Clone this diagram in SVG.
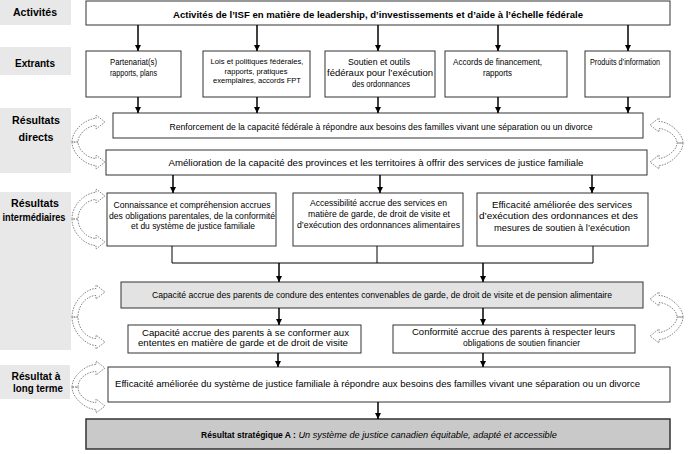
<svg xmlns="http://www.w3.org/2000/svg" width="690" height="454" viewBox="0 0 690 454">
<defs>
<marker id="ah" viewBox="0 0 10 10" refX="10" refY="5" markerWidth="4" markerHeight="4" orient="auto" markerUnits="strokeWidth">
<path d="M0,0 L10,5 L0,10 Z" fill="#000"/>
</marker>
<style>
.lbl{fill:#e8e8e8;stroke:none}
.lt{font-family:"Liberation Sans",Arial,sans-serif;font-size:10px;font-weight:bold;fill:#000;text-anchor:middle}
.box{fill:#fff;stroke:#333;stroke-width:1}
.gbox{fill:#e3e3e3;stroke:#333;stroke-width:1}
.sbox{fill:#c9c9c9;stroke:#333;stroke-width:1.5}
.t{font-family:"Liberation Sans",Arial,sans-serif;font-size:9px;fill:#000;text-anchor:middle}
.ts{font-family:"Liberation Sans",Arial,sans-serif;font-size:7px;fill:#000;text-anchor:middle}
.tb{font-family:"Liberation Sans",Arial,sans-serif;font-size:9.5px;font-weight:bold;fill:#000}
.st{font-family:"Liberation Sans",Arial,sans-serif;font-size:9.2px;fill:#000;text-anchor:middle}
.b{font-weight:bold;font-size:8.5px}
.i{font-style:italic}
.ar{stroke:#000;stroke-width:1.5;fill:none;marker-end:url(#ah)}
.ln{stroke:#000;stroke-width:1;fill:none}
.cv{fill:none;stroke:#888;stroke-width:1;stroke-dasharray:1.6 1.2}
</style>
</defs>
<rect width="690" height="454" fill="#fff"/>

<g id="labels">
<rect class="lbl" x="0" y="0" width="71" height="25"/>
<text class="lt" x="35" y="16" textLength="44" lengthAdjust="spacingAndGlyphs">Activités</text>
<rect class="lbl" x="0" y="47" width="71" height="28"/>
<text class="lt" x="35" y="67" textLength="40" lengthAdjust="spacingAndGlyphs">Extrants</text>
<rect class="lbl" x="0" y="108" width="71" height="65"/>
<text class="lt" x="36" y="124" textLength="48" lengthAdjust="spacingAndGlyphs">Résultats</text>
<text class="lt" x="36" y="141" textLength="35" lengthAdjust="spacingAndGlyphs">directs</text>
<rect class="lbl" x="0" y="192" width="71" height="158"/>
<text class="lt" x="35" y="207" textLength="48" lengthAdjust="spacingAndGlyphs">Résultats</text>
<text class="lt" x="34" y="221" textLength="63" lengthAdjust="spacingAndGlyphs">intermédiaires</text>
<rect class="lbl" x="0" y="365" width="70" height="34"/>
<text class="lt" x="36" y="380" textLength="49" lengthAdjust="spacingAndGlyphs">Résultat à</text>
<text class="lt" x="38" y="392" textLength="50" lengthAdjust="spacingAndGlyphs">long terme</text>
</g>

<g id="activites">
<rect class="box" x="86" y="1" width="584" height="24"/>
<text class="tb" x="378" y="18" text-anchor="middle" textLength="410" lengthAdjust="spacingAndGlyphs">Activités de l’ISF en matière de leadership, d’investissements et d’aide à l’échelle fédérale</text>
</g>

<g id="extrant1">
<rect class="box" x="86" y="51" width="95" height="46"/>
<text class="t" x="133.5" y="65" textLength="47" lengthAdjust="spacingAndGlyphs">Partenariat(s)</text>
<text class="t" x="133.5" y="75.5" textLength="47" lengthAdjust="spacingAndGlyphs">rapports, plans</text>
</g>
<g id="extrant2">
<rect class="box" x="203" y="51" width="107" height="46"/>
<text class="ts" x="257" y="63.5" textLength="93" lengthAdjust="spacingAndGlyphs">Lois et politiques fédérales,</text>
<text class="ts" x="256" y="73.5" textLength="63" lengthAdjust="spacingAndGlyphs">rapports, pratiques</text>
<text class="ts" x="257" y="83" textLength="88" lengthAdjust="spacingAndGlyphs">exemplaires, accords FPT</text>
</g>
<g id="extrant3">
<rect class="box" x="325" y="51" width="110" height="46"/>
<text class="t" x="379" y="65" textLength="62" lengthAdjust="spacingAndGlyphs">Soutien et outils</text>
<text class="t" x="380" y="76" textLength="106" lengthAdjust="spacingAndGlyphs">fédéraux pour l’exécution</text>
<text class="t" x="381" y="86.5" textLength="58" lengthAdjust="spacingAndGlyphs">des ordonnances</text>
</g>
<g id="extrant4">
<rect class="box" x="445" y="51" width="122" height="46"/>
<text class="t" x="497.5" y="65" textLength="89" lengthAdjust="spacingAndGlyphs">Accords de financement,</text>
<text class="t" x="497.5" y="76" textLength="29" lengthAdjust="spacingAndGlyphs">rapports</text>
</g>
<g id="extrant5">
<rect class="box" x="585" y="51" width="85" height="46"/>
<text class="t" x="625" y="65" textLength="70" lengthAdjust="spacingAndGlyphs">Produits d’information</text>
</g>

<g id="direct1">
<rect class="box" x="113" y="113" width="530" height="25"/>
<text class="t" x="381" y="130" textLength="423" lengthAdjust="spacingAndGlyphs">Renforcement de la capacité fédérale à répondre aux besoins des familles vivant une séparation ou un divorce</text>
</g>
<g id="direct2">
<rect class="box" x="106" y="150" width="541" height="25"/>
<text class="t" x="376" y="165.5" textLength="415" lengthAdjust="spacingAndGlyphs">Amélioration de la capacité des provinces et les territoires à offrir des services de justice familiale</text>
</g>

<g id="inter1">
<rect class="box" x="107" y="193" width="169" height="53"/>
<text class="t" x="192" y="208" textLength="157" lengthAdjust="spacingAndGlyphs">Connaissance et compréhension accrues</text>
<text class="t" x="192" y="218.5" textLength="166" lengthAdjust="spacingAndGlyphs">des obligations parentales, de la conformité</text>
<text class="t" x="193" y="229" textLength="124" lengthAdjust="spacingAndGlyphs">et du système de justice familiale</text>
</g>
<g id="inter2">
<rect class="box" x="293" y="193" width="170" height="53"/>
<text class="t" x="378.5" y="206" textLength="137" lengthAdjust="spacingAndGlyphs">Accessibilité accrue des services en</text>
<text class="t" x="379" y="217" textLength="142" lengthAdjust="spacingAndGlyphs">matière de garde, de droit de visite et</text>
<text class="t" x="378.5" y="228" textLength="163" lengthAdjust="spacingAndGlyphs">d’exécution des ordonnances alimentaires</text>
</g>
<g id="inter3">
<rect class="box" x="477" y="193" width="171" height="53"/>
<text class="t" x="562" y="207.5" textLength="140" lengthAdjust="spacingAndGlyphs">Efficacité améliorée des services</text>
<text class="t" x="558.5" y="219" textLength="159" lengthAdjust="spacingAndGlyphs">d’exécution des ordonnances et des</text>
<text class="t" x="562" y="231" textLength="136" lengthAdjust="spacingAndGlyphs">mesures de soutien à l’exécution</text>
</g>

<g id="ententes">
<rect class="gbox" x="121" y="282" width="522" height="26"/>
<text class="t" x="382" y="298" textLength="460" lengthAdjust="spacingAndGlyphs">Capacité accrue des parents de condure des ententes convenables de garde, de droit de visite et de pension alimentaire</text>
</g>

<g id="conformer">
<rect class="box" x="128" y="325" width="233" height="28"/>
<text class="t" x="245.5" y="335.5" textLength="207" lengthAdjust="spacingAndGlyphs">Capacité accrue des parents à se conformer aux</text>
<text class="t" x="243" y="346" textLength="210" lengthAdjust="spacingAndGlyphs">ententes en matière de garde et de droit de visite</text>
</g>
<g id="soutien">
<rect class="box" x="393" y="325" width="242" height="28"/>
<text class="t" x="513.5" y="335" textLength="203" lengthAdjust="spacingAndGlyphs">Conformité accrue des parents à respecter leurs</text>
<text class="t" x="521.5" y="345.5" textLength="117" lengthAdjust="spacingAndGlyphs">obligations de soutien financier</text>
</g>

<g id="longterme">
<rect class="box" x="108" y="367" width="562" height="35"/>
<text class="t" x="377.5" y="386.5" textLength="525" lengthAdjust="spacingAndGlyphs">Efficacité améliorée du système de justice familiale à répondre aux besoins des familles vivant une séparation ou un divorce</text>
</g>

<g id="strategique">
<rect class="sbox" x="86" y="419" width="584" height="30"/>
<text class="st" x="379" y="437.5"><tspan class="b">Résultat stratégique A :</tspan> <tspan class="i">Un système de justice canadien équitable, adapté et accessible</tspan></text>
</g>

<g id="connecteurs">
<line class="ar" x1="138" y1="25" x2="138" y2="51"/>
<line class="ar" x1="257" y1="25" x2="257" y2="51"/>
<line class="ar" x1="378" y1="25" x2="378" y2="51"/>
<line class="ar" x1="498" y1="25" x2="498" y2="51"/>
<line class="ar" x1="628" y1="25" x2="628" y2="51"/>
<line class="ar" x1="138" y1="97" x2="138" y2="113"/>
<line class="ar" x1="257" y1="97" x2="257" y2="113"/>
<line class="ar" x1="378" y1="97" x2="378" y2="113"/>
<line class="ar" x1="498" y1="97" x2="498" y2="113"/>
<line class="ar" x1="628" y1="97" x2="628" y2="113"/>
<line class="ar" x1="173" y1="175" x2="173" y2="193"/>
<line class="ar" x1="380" y1="175" x2="380" y2="193"/>
<line class="ar" x1="592" y1="175" x2="592" y2="193"/>
<polyline class="ln" points="172,246 172,263 593,263 593,246"/>
<line class="ln" x1="377" y1="246" x2="377" y2="263"/>
<line class="ar" x1="279" y1="263" x2="279" y2="282"/>
<line class="ar" x1="483" y1="263" x2="483" y2="282"/>
<line class="ar" x1="279" y1="308" x2="279" y2="325"/>
<line class="ar" x1="483" y1="308" x2="483" y2="325"/>
<line class="ar" x1="278" y1="353" x2="278" y2="367"/>
<line class="ar" x1="483" y1="353" x2="483" y2="367"/>
<line class="ar" x1="378" y1="402" x2="378" y2="419"/>
</g>

<g id="boucles">
<path class="cv" d="M72,142 C72,130 86,118.5 96,118.5 L96,115 L105,122 L96,129 L96,125.5 C88,125.5 78,134 78,142 Z"/>
<path class="cv" d="M72,142 C72,154 86,165.5 96,165.5 L96,169 L105,162 L96,155 L96,158.5 C88,158.5 78,150 78,142 Z"/>
<path class="cv" d="M72,219 C72,204 86,192.5 96,192.5 L96,189 L105,196 L96,203 L96,199.5 C88,199.5 78,208 78,219 Z"/>
<path class="cv" d="M72,219 C72,234 86,245.5 96,245.5 L96,249 L105,242 L96,235 L96,238.5 C88,238.5 78,230 78,219 Z"/>
<path class="cv" d="M72,317 C72,302 86,288.5 96,288.5 L96,285 L105,292 L96,299 L96,295.5 C88,295.5 78,304 78,317 Z"/>
<path class="cv" d="M72,317 C72,332 86,345.5 96,345.5 L96,349 L105,342 L96,335 L96,338.5 C88,338.5 78,330 78,317 Z"/>
<path class="cv" d="M72,387 C72,376 86,364.5 96,364.5 L96,361 L105,368 L96,375 L96,371.5 C88,371.5 78,378 78,387 Z"/>
<path class="cv" d="M72,387 C72,398 86,409.5 96,409.5 L96,413 L105,406 L96,399 L96,402.5 C88,402.5 78,396 78,387 Z"/>
<path class="cv" d="M683,143 C683,133 669,121.5 659,121.5 L659,118 L650,125 L659,132 L659,128.5 C665,128.5 677,135 677,143 Z"/>
<path class="cv" d="M683,143 C683,153 669,165.5 659,165.5 L659,169 L650,162 L659,155 L659,158.5 C665,158.5 677,151 677,143 Z"/>
<path class="cv" d="M683,317 C683,307 669,295.5 659,295.5 L659,292 L650,299 L659,306 L659,302.5 C665,302.5 677,309 677,317 Z"/>
<path class="cv" d="M683,317 C683,327 669,339.5 659,339.5 L659,343 L650,336 L659,329 L659,332.5 C665,332.5 677,325 677,317 Z"/>
</g>
</svg>
